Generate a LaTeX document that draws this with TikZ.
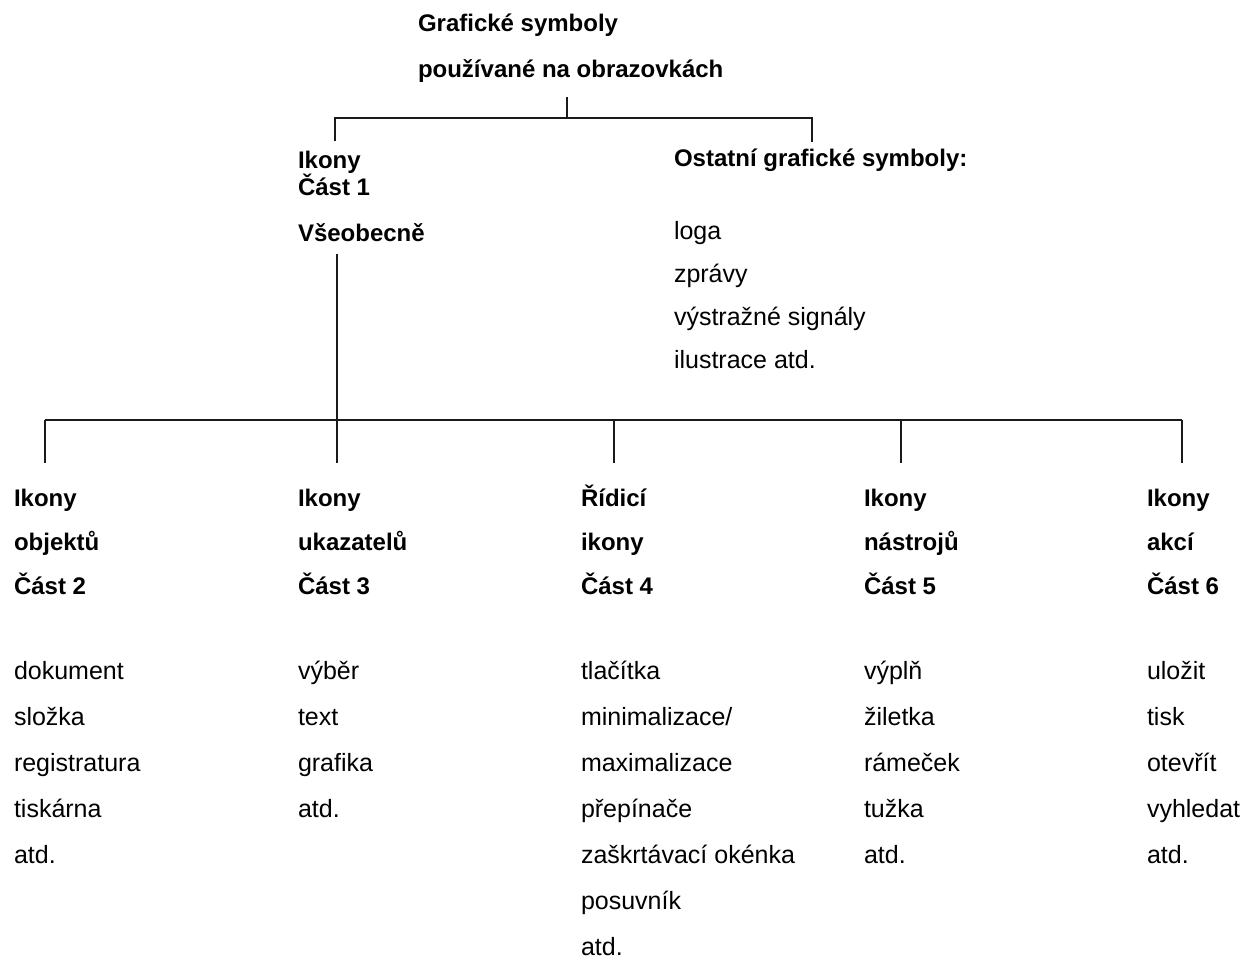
\documentclass[tikz,border=0pt]{standalone}
\usepackage{fontspec}
\setmainfont{Liberation Sans}
\newcommand{\headtop}{\rule{0pt}{11.5pt}}
\newcommand{\itemtop}{\rule{0pt}{11pt}}

\begin{document}
\begin{tikzpicture}[x=0.5pt, y=-0.5pt, line width=1pt,
  head/.style={anchor=north west, inner sep=0pt, align=left, font=\fontsize{12}{22}\selectfont\bfseries},
  item/.style={anchor=north west, inner sep=0pt, align=left, font=\fontsize{12.5}{23}\selectfont},
  link/.style={draw=Ink, line cap=butt}]
\definecolor{Ink}{HTML}{1A1A1A}
\useasboundingbox[fill=white] (0,0) rectangle (1247,959);
% top of the tree
\node[head, font=\fontsize{12}{23}\selectfont\bfseries] (root) at (417,7) {\headtop Grafické symboly\\používané na obrazovkách};
\node[head, font=\fontsize{12}{13.5}\selectfont\bfseries] (ikony1) at (297,144) {\headtop Ikony\\Část 1\\[9.5pt]Všeobecně};
\node[head] (ostatni) at (673,142) {\headtop Ostatní grafické symboly:};
\node[item, font=\fontsize{12.5}{21.5}\selectfont] (jine) at (673,216) {\itemtop loga\\zprávy\\výstražné signály\\ilustrace atd.};
\coordinate (tick) at (567,118); \coordinate (ta) at (335,118); \coordinate (tb) at (812,118);
\draw[link, shorten <=7pt] (root.south -| tick) -- (tick);
\draw[link, shorten <=1.5pt] (ikony1.north -| ta) -- (ta) -- (tb) -- (ostatni.north -| tb);
% five parts
\node[head] (h2) at (13,482) {\headtop Ikony\\objektů\\Část 2};
\node[head] (h3) at (297,482) {\headtop Ikony\\ukazatelů\\Část 3};
\node[head] (h4) at (580,482) {\headtop Řídicí\\ikony\\Část 4};
\node[head] (h5) at (863,482) {\headtop Ikony\\nástrojů\\Část 5};
\node[head] (h6) at (1146,482) {\headtop Ikony\\akcí\\Část 6};
\node[item] (l2) at (13,656) {\itemtop dokument\\složka\\registratura\\tiskárna\\atd.};
\node[item] (l3) at (297,656) {\itemtop výběr\\text\\grafika\\atd.};
\node[item] (l4) at (580,656) {\itemtop tlačítka\\minimalizace/\\maximalizace\\přepínače\\zaškrtávací okénka\\posuvník\\atd.};
\node[item] (l5) at (863,656) {\itemtop výplň\\žiletka\\rámeček\\tužka\\atd.};
\node[item] (l6) at (1146,656) {\itemtop uložit\\tisk\\otevřít\\vyhledat\\atd.};
\coordinate (b2) at (45,420); \coordinate (b3) at (337,420); \coordinate (b4) at (614,420); \coordinate (b5) at (901,420); \coordinate (b6) at (1182,420);
\draw[link] (b2) -- (b6);
\draw[link, shorten <=6pt, shorten >=9.5pt] (ikony1.south -| b3) -- (h3.north -| b3);
\draw[link, shorten >=9.5pt] (b2) -- (h2.north -| b2);
\draw[link, shorten >=9.5pt] (b4) -- (h4.north -| b4);
\draw[link, shorten >=9.5pt] (b5) -- (h5.north -| b5);
\draw[link, shorten >=9.5pt] (b6) -- (h6.north -| b6);
\end{tikzpicture}
\end{document}
